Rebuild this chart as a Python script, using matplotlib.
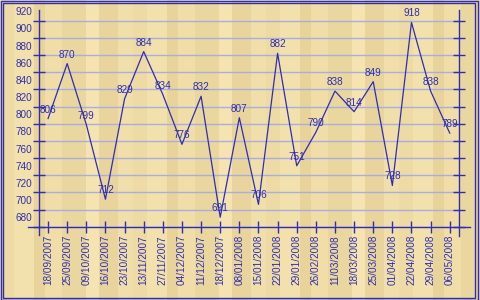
import matplotlib
matplotlib.use("Agg")
import matplotlib.pyplot as plt
from matplotlib.patches import Rectangle
import matplotlib.transforms as mtransforms

# weekly values
dates = ["18/09/2007", "25/09/2007", "09/10/2007", "16/10/2007", "23/10/2007",
         "13/11/2007", "27/11/2007", "04/12/2007", "11/12/2007", "18/12/2007",
         "08/01/2008", "15/01/2008", "22/01/2008", "29/01/2008", "26/02/2008",
         "11/03/2008", "18/03/2008", "25/03/2008", "01/04/2008", "22/04/2008",
         "29/04/2008", "06/05/2008"]
values = [806, 870, 799, 712, 829, 884, 834, 776, 832, 691, 807,
          706, 882, 751, 790, 838, 814, 849, 728, 918, 838, 789]
yticks = list(range(680, 921, 20))

blue = "#2e2eb0"
grid_col = "#aaaedc"
plt.rcParams["font.family"] = ["Liberation Sans", "DejaVu Sans"]
fs = 7.2

fig = plt.figure(figsize=(4.8, 3.0), dpi=100)
fig.patch.set_facecolor("#ecd9a3")

# soft plank background
planks = ["#eedaa4", "#f3e1ad", "#e8d39b", "#f0dda8", "#ead69f", "#f5e4b2",
          "#e9d49d", "#f1dfab"]
widths = [14, 20, 11, 17, 24, 13, 19, 15]
k = 0
x0 = 0.0
while x0 < 480:
    w = widths[k % len(widths)]
    fig.add_artist(Rectangle((x0 / 480, 0), w / 480, 1, transform=fig.transFigure,
                             facecolor=planks[k % len(planks)], edgecolor="none",
                             zorder=-10))
    x0 += w
    k += 1

# double frame
fig.add_artist(Rectangle((0.5 / 480, 0.5 / 300), 477 / 480, 299 / 300,
                         transform=fig.transFigure, fill=False, edgecolor=blue, lw=1))
fig.add_artist(Rectangle((2.5 / 480, 2.5 / 300), 472 / 480, 295 / 300,
                         transform=fig.transFigure, fill=False, edgecolor=blue, lw=1))

ax = fig.add_axes([38.5 / 480, (300 - 226.7) / 300, 420.8 / 480, 216.3 / 300])
ax.set_facecolor("none")
x = list(range(len(values)))
ax.plot(x, values, color=blue, lw=0.9, zorder=3)

ax.set_xlim(-0.5, len(values) - 0.5)
ax.set_ylim(680, 932)
ax.set_yticks(yticks)
ax.set_xticks(x)
ax.set_xticklabels(dates, rotation=90, fontsize=fs, color=blue)
ax.set_yticklabels([])
ax.tick_params(axis="y", direction="inout", length=8, width=1, color=blue,
               left=True, right=True)
ax.tick_params(axis="x", direction="inout", length=8, width=1, color=blue, pad=2)
for s in ax.spines.values():
    s.set_visible(False)
ax.grid(axis="y", color=grid_col, lw=1, zorder=1)

# axis lines extending past the plot area
lk = dict(color=blue, lw=1, transform=ax.transAxes, clip_on=False, zorder=4)
ax.plot([0, 0], [-0.038, 1], **lk)
ax.plot([1, 1], [-0.043, 1], **lk)
ax.plot([-0.025, 1.025], [0, 0], **lk)

# y labels sit just above their tick
off = mtransforms.offset_copy(ax.get_yaxis_transform(), fig=fig, x=-6, y=5.5, units="dots")
for v in yticks:
    ax.text(0, v, str(v), transform=off, ha="right", va="baseline",
            fontsize=fs, color=blue)

# value labels
for i, v in enumerate(values):
    ax.annotate(str(v), (i, v), xytext=(0, 9), textcoords="offset pixels",
                ha="center", va="center", fontsize=fs, color=blue, zorder=5)

fig.savefig("out.png", dpi=100, facecolor=fig.get_facecolor())
